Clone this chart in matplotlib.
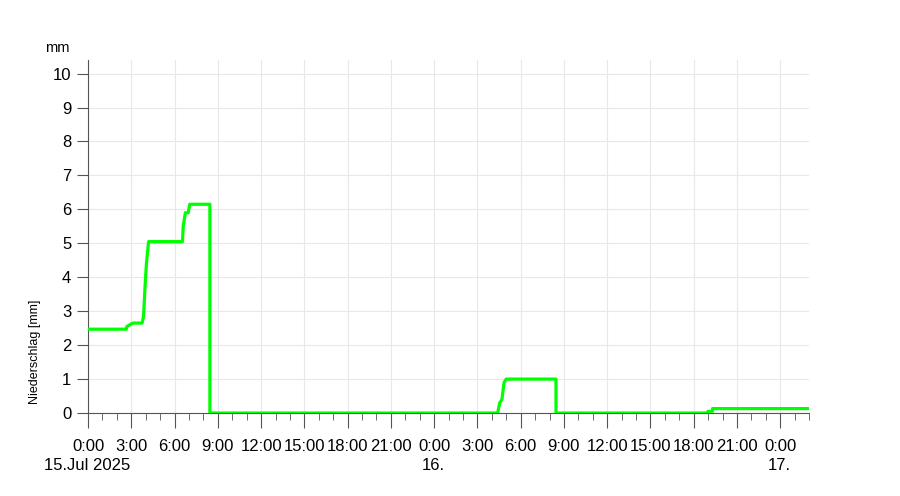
import datetime as dt
import matplotlib
matplotlib.use('Agg')
import matplotlib.pyplot as plt
import matplotlib.dates as mdates
from matplotlib.ticker import FuncFormatter, MultipleLocator

# Stützpunkte: Stunden seit 15.07.2025 0:00 und Niederschlag in mm
hours = [0, 2.65, 2.7, 2.9, 3.1, 3.75, 3.85, 3.95, 4.05, 4.2, 6.55, 6.6, 6.75,
         6.95, 7.05, 8.45, 8.45, 28.4, 28.55, 28.7, 28.85, 29.0, 32.45, 32.45,
         42.9, 43.0, 43.3, 43.3, 50]
rain = [2.47, 2.47, 2.55, 2.6, 2.65, 2.65, 2.85, 3.7, 4.4, 5.05, 5.05, 5.5, 5.9,
        5.9, 6.15, 6.15, 0, 0, 0.3, 0.4, 0.9, 1.0, 1.0, 0,
        0, 0.05, 0.05, 0.13, 0.13]

# Datumsbeschriftung unter den Mitternachts-Ticks
date_days = [15, 16, 17]
date_labels = ['15.Jul 2025', '16.', '17.']

start = dt.datetime(2025, 7, 15)
end = start + dt.timedelta(hours=50)
times = [start + dt.timedelta(hours=h) for h in hours]

plt.rcParams['font.family'] = ['Liberation Sans', 'DejaVu Sans']

fig = plt.figure(figsize=(9, 4.96), dpi=100)
ax = fig.add_axes([0.0978, 0.1673, 0.8012, 0.7117])

ax.plot(times, rain, color='#00ff00', linewidth=2.3, zorder=3)

ax.set_xlim(start, end)
ax.set_ylim(0, 10.4)

ax.yaxis.set_major_locator(MultipleLocator(1))
ax.xaxis.set_major_locator(mdates.HourLocator(byhour=range(0, 24, 3)))
ax.xaxis.set_minor_locator(mdates.HourLocator())
ax.xaxis.set_major_formatter(FuncFormatter(
    lambda x, pos: f"{mdates.num2date(x).hour}:{mdates.num2date(x).minute:02d}"))

for day, lab in zip(date_days, date_labels):
    ax.annotate(lab, xy=(dt.datetime(2025, 7, day), 0), xycoords=('data', 'axes fraction'),
                xytext=(-1, -52), textcoords='offset pixels',
                ha='center', va='center', fontsize=12)

ax.grid(True, color='#e8e8e8', linewidth=0.8)
ax.set_axisbelow(True)

for side in ['top', 'right']:
    ax.spines[side].set_visible(False)
ax.spines['left'].set_color('#555555')
ax.spines['bottom'].set_color('#555555')

ax.tick_params(axis='y', length=8, color='#555555', labelsize=12, pad=4)
ax.tick_params(axis='x', which='major', length=11, color='#555555', labelsize=12, pad=8)
ax.tick_params(axis='x', which='minor', length=5, color='#555555')

fig.text(35 / 900, 1 - 352 / 496, 'Niederschlag [mm]', fontsize=9,
         rotation=90, ha='center', va='center')
fig.text(57 / 900, 1 - 48 / 496, 'mm', fontsize=10.5, ha='center', va='center')

fig.savefig('out.png', dpi=100)
